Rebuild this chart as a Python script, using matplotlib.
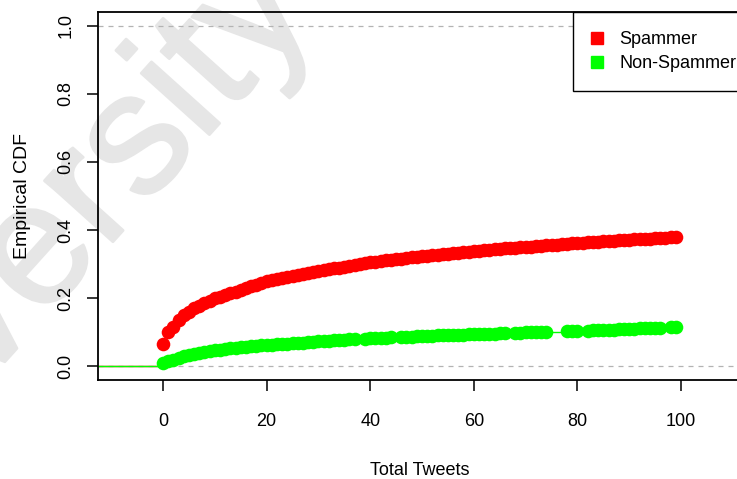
import matplotlib
matplotlib.use("Agg")
import matplotlib.pyplot as plt
import matplotlib.patheffects as pe
from matplotlib.lines import Line2D

plt.rcParams['font.family'] = ['Liberation Sans', 'DejaVu Sans']

# Empirical CDF of total tweets, one value per observed tweet count
spam_x = list(range(0, 100))
spam_cdf = [
    0.065, 0.100, 0.117, 0.135, 0.150, 0.160, 0.170, 0.178, 0.185, 0.193,
    0.200, 0.205, 0.210, 0.215, 0.219, 0.223, 0.229, 0.235, 0.240, 0.245,
    0.250, 0.253, 0.256, 0.259, 0.262, 0.265, 0.268, 0.271, 0.274, 0.277,
    0.280, 0.283, 0.285, 0.288, 0.290, 0.293, 0.295, 0.298, 0.300, 0.303,
    0.305, 0.307, 0.309, 0.311, 0.312, 0.314, 0.316, 0.318, 0.320, 0.321,
    0.323, 0.325, 0.326, 0.328, 0.329, 0.331, 0.332, 0.334, 0.335, 0.337,
    0.338, 0.339, 0.341, 0.342, 0.343, 0.344, 0.346, 0.347, 0.348, 0.349,
    0.350, 0.351, 0.353, 0.354, 0.355, 0.356, 0.357, 0.358, 0.360, 0.361,
    0.362, 0.363, 0.364, 0.365, 0.366, 0.367, 0.368, 0.369, 0.370, 0.371,
    0.372, 0.373, 0.374, 0.375, 0.375, 0.376, 0.377, 0.378, 0.379, 0.380,
]

nonspam_x = (list(range(0, 38)) + list(range(39, 45)) + list(range(46, 67))
             + list(range(68, 75)) + list(range(78, 81)) + list(range(82, 97))
             + [98, 99])
nonspam_cdf = [
    0.009, 0.015, 0.020, 0.025, 0.029, 0.033, 0.036, 0.039, 0.042, 0.045,
    0.047, 0.049, 0.051, 0.053, 0.055, 0.057, 0.058, 0.060, 0.061, 0.062,
    0.063, 0.064, 0.065, 0.066, 0.067, 0.068, 0.069, 0.070, 0.071, 0.072,
    0.073, 0.074, 0.075, 0.076, 0.077, 0.078, 0.079, 0.080,
    0.081, 0.082, 0.083, 0.083, 0.084, 0.085,
    0.086, 0.087, 0.087, 0.088, 0.089, 0.089, 0.090, 0.091, 0.091, 0.092,
    0.092, 0.093, 0.093, 0.094, 0.094, 0.095, 0.095, 0.096, 0.096, 0.097,
    0.098,
    0.099, 0.099, 0.100, 0.100, 0.101, 0.101, 0.102,
    0.103, 0.104, 0.104,
    0.105, 0.106, 0.106, 0.107, 0.108, 0.108, 0.109, 0.110, 0.110, 0.111,
    0.112, 0.112, 0.113, 0.113, 0.114,
    0.116, 0.117,
]

series_names = ["Spammer", "Non-Spammer"]
series_colors = ["#ff0000", "#00ff00"]
x_ticks = [0, 20, 40, 60, 80, 100]
y_ticks = [0.0, 0.2, 0.4, 0.6, 0.8, 1.0]
y_tick_labels = ["0.0", "0.2", "0.4", "0.6", "0.8", "1.0"]

W, H = 737, 479
fig = plt.figure(figsize=(W / 100, H / 100), dpi=100)
fig.patch.set_facecolor("white")

# faint diagonal watermark behind the plot
wm_color = "#e6e6e6"
fig.text(318 / W, 1 - 14 / H, "University", fontsize=125, color=wm_color,
         rotation=48, rotation_mode="anchor", ha="right", va="baseline",
         zorder=0,
         path_effects=[pe.withStroke(linewidth=2, foreground=wm_color)])

left, right, top, bottom = 98, 740.6, 12, 380
ax = fig.add_axes([left / W, 1 - bottom / H, (right - left) / W, (bottom - top) / H])
ax.set_zorder(1)
ax.patch.set_alpha(0)

xmin, xmax = -12.55, 111.5
ax.set_xlim(xmin, xmax)
ax.set_ylim(-0.04, 1.04)

# reference lines at 0 and 1
for level in (0.0, 1.0):
    ax.axhline(level, color="#b3b3b3", lw=0.9, ls=(0, (4, 4)), zorder=1)

for xs, ys, col in [(spam_x, spam_cdf, series_colors[0]),
                    (nonspam_x, nonspam_cdf, series_colors[1])]:
    # step segments of the ECDF
    ax.hlines([0.0], [xmin], [xs[0]], color=col, lw=1.0, zorder=2)
    ax.hlines(ys[:-1], xs[:-1], xs[1:], color=col, lw=1.0, zorder=2)
    ax.plot(xs, ys, "o", ms=9.8, color=col, mec=col, mew=0, zorder=3)

ax.set_xticks(x_ticks)
ax.set_xticklabels([str(t) for t in x_ticks])
ax.set_yticks(y_ticks)
ax.set_yticklabels(y_tick_labels, rotation=90, va="center")
ax.tick_params(axis="both", direction="out", length=8, width=1.1,
               labelsize=13, colors="black")
ax.tick_params(axis="x", pad=16)
ax.tick_params(axis="y", pad=9)
for s in ax.spines.values():
    s.set_linewidth(1.3)
    s.set_color("black")

ax.set_xlabel("Total Tweets", fontsize=13)
ax.set_ylabel("Empirical CDF", fontsize=14)
ax.xaxis.set_label_coords(0.5, -(475 - bottom) / (bottom - top), transform=ax.transAxes)
ax.xaxis.label.set_va("baseline")
ax.yaxis.set_label_coords(-(left - 23) / (right - left), 0.5, transform=ax.transAxes)
ax.yaxis.label.set_va("center")

handles = [Line2D([], [], marker="s", ls="none", ms=8.6, color=c, mec=c)
           for c in series_colors]
leg = ax.legend(handles, series_names, loc="upper left",
                bbox_to_anchor=((573 - left) / (right - left), 1.0),
                borderaxespad=0, fontsize=13, fancybox=False, framealpha=1,
                edgecolor="black", borderpad=1.05, labelspacing=0.4,
                handlelength=0.56, handletextpad=0.94)
leg.get_frame().set_linewidth(1.0)

fig.savefig("out.png", dpi=100, facecolor="white")
